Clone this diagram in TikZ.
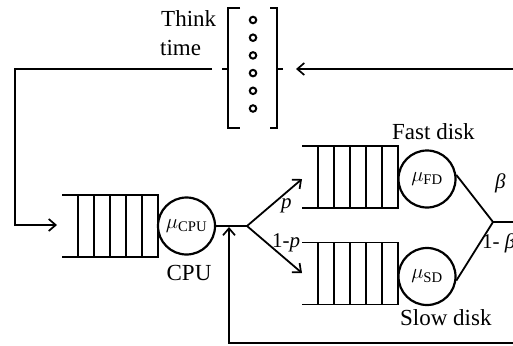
\documentclass[tikz,border=0pt]{standalone}
\usepackage{fontspec}
\usepackage{amsmath}
\setmainfont{Liberation Serif}
\usetikzlibrary{arrows.meta}
\begin{document}
\begin{tikzpicture}[x=1pt,y=-1pt,
  line/.style={line width=1.8pt},
  arr/.style={line width=1.8pt,-{Straight Barb[length=7pt,width=12pt,line width=1.7pt]}},
  server/.style={circle,draw,line width=2.2pt,minimum size=57pt,inner sep=0pt,font=\fontsize{21}{23}\selectfont},
  lbl/.style={font=\fontsize{23}{26}\selectfont,inner sep=0pt},
  slbl/.style={font=\fontsize{21}{24}\selectfont,inner sep=0pt},
  qedge/.style={line width=1.9pt},
  qdiv/.style={line width=1.3pt},
  tdot/.style={circle,draw,line width=2pt,minimum size=6.5pt,inner sep=0pt},
  queue/.pic={
    \draw[qedge] (-96,-31) -- (0,-31) -- (0,31) -- (-96,31);
    \foreach \i in {1,...,5} \draw[qdiv] (-16*\i,-31) -- (-16*\i,31);
  }
]
\clip (0,0) rectangle (513,345);
\fill[white] (0,0) rectangle (513,345);

% think-time station
\draw[line] (240,8) -- (228,8) -- (228,128) -- (240,128);
\draw[line] (228,69) -- (222,69);
\draw[line] (270,8) -- (277,8) -- (277,128) -- (270,128);
\draw[line] (277,69) -- (283,69);
\foreach \k in {0,...,5} \node[tdot] (d\k) at (253,{20+17.7*\k}) {};
\node[lbl,anchor=base west] (tt1) at (161,27) {Think};
\node[lbl,anchor=base west] (tt2) at (160,56) {time};

% queues
\pic at (158,226) {queue};
\pic at (398,177) {queue};
\pic at (398,273.5) {queue};

% servers
\node[server] (cpu) at (186.5,226) {$\mu_{\mathrm{CPU}}$};
\node[server] (fd) at (427,179) {$\mu_{\text{FD}}$};
\node[server] (sd) at (427,276.5) {$\mu_{\text{SD}}$};

\node[lbl,anchor=base] (cpul) at (189,280) {CPU};
\node[lbl,anchor=base west] (fdl) at (392,139) {Fast disk};
\node[lbl,anchor=base west] (sdl) at (400,325) {Slow disk};

% coordinates
\coordinate (tl) at (212,69);
\coordinate (c2) at (15,225);
\coordinate (cpuin) at (57,225);
\coordinate (re) at (520,69);
\coordinate (tin) at (296,69);
\coordinate (split) at (247,226);
\coordinate (fqin) at (302,179);
\coordinate (sqin) at (302,273);
\coordinate (join) at (493,222);
\coordinate (out) at (520,222);
\coordinate (br) at (520,343);
\coordinate (fb) at (229,227);

% connectors
\draw[arr] (tl) -| (c2) -- (cpuin);
\draw[arr] (re) -- (tin);
\draw[line] (cpu.east) -- (split);
\draw[arr] (split) -- (fqin);
\draw[arr] (split) -- (sqin);
\draw[line] (fd.8) -- (join);
\draw[line] (sd.-8) -- (join);
\draw[line] (join) -- (out);
\draw[arr] (br) -| (fb);

% probabilities
\node[slbl,anchor=base west] (pl) at (281,208) {\textit{p}};
\node[slbl,anchor=base west] (qpl) at (272,247) {1-\textit{p}};
\node[slbl,anchor=base west] (bl) at (495,188) {\textit{β}};
\node[slbl,anchor=base west] (qbl) at (482,248) {1- \textit{β}};
\end{tikzpicture}
\end{document}
